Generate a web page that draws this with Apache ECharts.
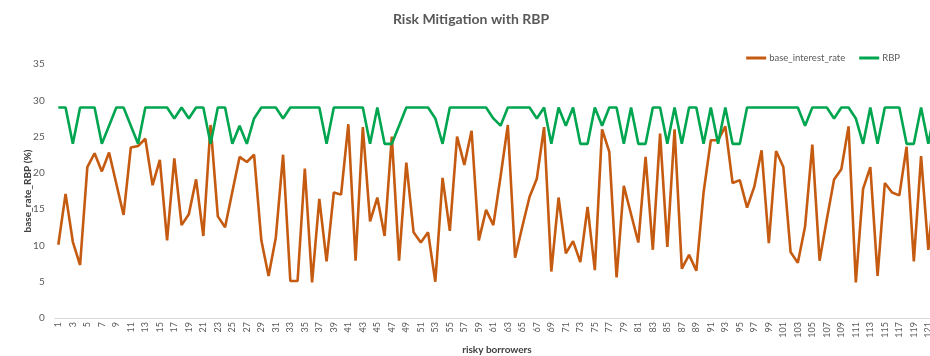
<!DOCTYPE html>
<html>
<head>
<meta charset="utf-8">
<title>Risk Mitigation with RBP</title>
<script src="https://cdn.jsdelivr.net/npm/echarts@6/dist/echarts.min.js"></script>
<style>
  html, body { margin: 0; padding: 0; background: #ffffff; overflow: hidden; }
  #wrap { width: 930px; height: 356px; overflow: hidden; }
  #chart { width: 940px; height: 356px; }
</style>
</head>
<body>
<div id="wrap"><div id="chart"></div></div>
<script>
// Borrower index 1..122
const borrowers = [];
for (let i = 1; i <= 122; i++) borrowers.push(String(i));

// Base interest rate per borrower (%)
const baseInterestRate = [
  10.1, 17.1, 10.5, 7.3, 20.8, 22.7, 20.2, 22.8, 18.5, 14.2,
  23.5, 23.7, 24.7, 18.3, 21.8, 10.7, 22.0, 12.8, 14.3, 19.1,
  11.3, 26.6, 14.0, 12.5, 17.4, 22.2, 21.5, 22.5, 10.7, 5.8,
  11.1, 22.5, 5.1, 5.1, 20.6, 4.9, 16.4, 7.8, 17.3, 17.0,
  26.7, 7.9, 26.3, 13.3, 16.6, 11.3, 25.0, 7.9, 21.4, 11.8,
  10.4, 11.8, 5.0, 19.3, 12.0, 25.0, 21.1, 25.8, 10.7, 14.9,
  12.8, 19.5, 26.6, 8.3, 12.6, 16.7, 19.2, 26.3, 6.4, 16.6,
  8.9, 10.6, 7.7, 15.3, 6.6, 26.0, 22.9, 5.6, 18.2, 14.3,
  10.4, 22.2, 9.4, 25.4, 9.8, 26.0, 6.8, 8.7, 6.5, 17.3,
  24.5, 24.5, 26.4, 18.6, 19.0, 15.2, 18.1, 23.1, 10.3, 23.0,
  20.8, 9.1, 7.6, 12.6, 23.9, 7.9, 13.6, 19.1, 20.5, 26.4,
  4.9, 17.8, 20.8, 5.8, 18.6, 17.3, 16.9, 23.6, 7.8, 22.3,
  9.4, 19.5
];

// Risk-based pricing rate per borrower (%)
const rbpRate = [
  29, 29, 24, 29, 29, 29, 24, 26.5, 29, 29,
  26.5, 24, 29, 29, 29, 29, 27.5, 29, 27.5, 29,
  29, 24, 29, 29, 24, 26.5, 24, 27.5, 29, 29,
  29, 27.5, 29, 29, 29, 29, 29, 24, 29, 29,
  29, 29, 29, 24, 29, 24, 24, 26.5, 29, 29,
  29, 29, 27.5, 24, 29, 29, 29, 29, 29, 29,
  27.5, 26.5, 29, 29, 29, 29, 27.5, 29, 24, 29,
  26.5, 29, 24, 24, 29, 26.5, 29, 29, 24, 29,
  24, 24, 29, 29, 24, 29, 24, 29, 29, 24,
  29, 24, 29, 24, 24, 29, 29, 29, 29, 29,
  29, 29, 29, 26.5, 29, 29, 29, 27.5, 29, 29,
  27.5, 24, 29, 24, 29, 29, 29, 24, 24, 29,
  24, 29
];

// Value axis ticks
const yMin = 0, yMax = 35, yStep = 5;

const FONT = 'Lato, "Open Sans", "Liberation Sans", sans-serif';
const chart = echarts.init(document.getElementById('chart'), null, { renderer: 'canvas' });

chart.setOption({
  animation: false,
  backgroundColor: '#ffffff',
  title: {
    text: 'Risk Mitigation with RBP',
    left: 466,
    textAlign: 'center',
    top: 7,
    textStyle: { fontFamily: FONT, fontSize: 14, fontWeight: 'bold', color: '#595959' }
  },
  legend: {
    right: 35,
    top: 48,
    icon: 'rect',
    itemWidth: 20,
    itemHeight: 3,
    itemGap: 14,
    itemStyle: { borderWidth: 0 },
    textStyle: { fontFamily: FONT, fontSize: 9.5, color: '#595959', padding: [0, 0, 0, -2] },
    data: ['base_interest_rate', 'RBP']
  },
  grid: {
    left: 54.7,
    top: 64,
    bottom: 38,
    right: 0.8,
    containLabel: false,
    outerBoundsMode: 'none'
  },
  xAxis: {
    type: 'category',
    data: borrowers,
    boundaryGap: true,
    name: 'risky borrowers',
    nameLocation: 'middle',
    nameGap: 27,
    nameMoveOverlap: false,
    nameTextStyle: { fontFamily: FONT, fontSize: 10, fontWeight: 'bold', color: '#404040' },
    axisLine: { show: true, lineStyle: { color: '#d9d9d9', width: 1 } },
    axisTick: { show: false },
    axisLabel: {
      interval: 1,
      rotate: 90,
      margin: 4,
      fontFamily: FONT,
      fontSize: 9,
      color: '#595959'
    },
    splitLine: { show: false }
  },
  yAxis: {
    type: 'value',
    min: yMin,
    max: yMax,
    interval: yStep,
    name: 'base_rate_RBP (%)',
    nameLocation: 'middle',
    nameGap: 22,
    nameMoveOverlap: false,
    nameTextStyle: { fontFamily: FONT, fontSize: 10, fontWeight: 'bold', color: '#404040' },
    axisLine: { show: false },
    axisTick: { show: false },
    axisLabel: { margin: 10, fontFamily: FONT, fontSize: 10, color: '#595959' },
    splitLine: { show: false }
  },
  series: [
    {
      name: 'base_interest_rate',
      type: 'line',
      data: baseInterestRate,
      symbol: 'none',
      lineStyle: { width: 2.6, color: '#c55a11' },
      itemStyle: { color: '#c55a11' }
    },
    {
      name: 'RBP',
      type: 'line',
      data: rbpRate,
      symbol: 'none',
      lineStyle: { width: 2.6, color: '#00a550' },
      itemStyle: { color: '#00a550' }
    }
  ]
});
</script>
</body>
</html>
